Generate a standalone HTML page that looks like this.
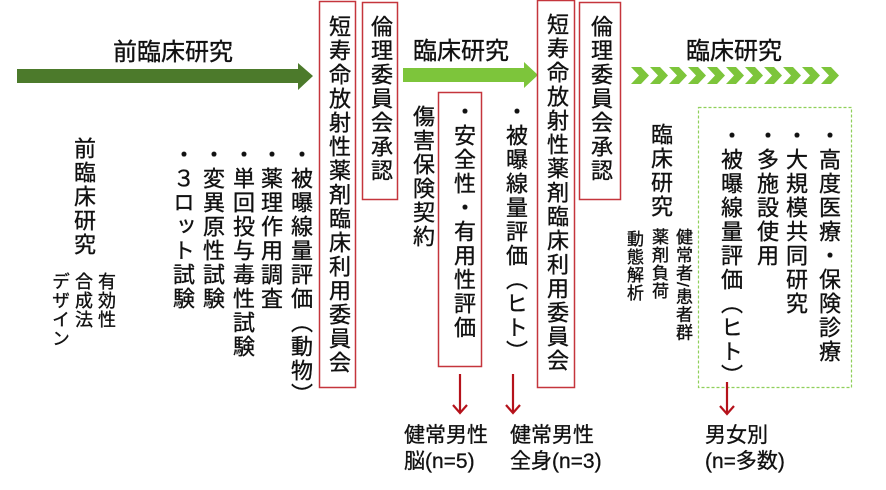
<!DOCTYPE html>
<html><head><meta charset="utf-8"><style>
body{margin:0;background:#fff;width:886px;height:490px;overflow:hidden;position:relative;font-family:"Liberation Sans","Noto Sans CJK JP",sans-serif;color:#111}
.v{position:absolute;writing-mode:vertical-rl;line-height:1;white-space:nowrap;-webkit-text-stroke:0.35px #111}
.b{font-size:22px;width:22px;letter-spacing:2px}
.s{font-size:17px;width:17px;letter-spacing:1px}
.h{position:absolute;font-size:22px;line-height:1;white-space:nowrap;-webkit-text-stroke:0.35px #111}
.t{position:absolute;font-size:21px;line-height:26px;white-space:nowrap;-webkit-text-stroke:0.3px #111}
</style></head><body>
<svg width="886" height="490" style="position:absolute;left:0;top:0">
<polygon points="17,69 298,69 298,63 313,76 298,90 298,83 17,83" fill="#4c7a2b"/>
<polygon points="403,68 524,68 524,62 538,75 524,88 524,82 403,82" fill="#7dc53b"/>
<g fill="#7dc53b">
<polygon points="631,67 641,67 649,75.5 641,84 631,84 639,75.5"/>
<polygon points="650,67 660,67 668,75.5 660,84 650,84 658,75.5"/>
<polygon points="669,67 679,67 687,75.5 679,84 669,84 677,75.5"/>
<polygon points="688,67 698,67 706,75.5 698,84 688,84 696,75.5"/>
<polygon points="707,67 717,67 725,75.5 717,84 707,84 715,75.5"/>
<polygon points="726,67 736,67 744,75.5 736,84 726,84 734,75.5"/>
<polygon points="745,67 755,67 763,75.5 755,84 745,84 753,75.5"/>
<polygon points="764,67 774,67 782,75.5 774,84 764,84 772,75.5"/>
<polygon points="783,67 793,67 801,75.5 793,84 783,84 791,75.5"/>
<polygon points="802,67 812,67 820,75.5 812,84 802,84 810,75.5"/>
<polygon points="821,67 831,67 839,75.5 831,84 821,84 829,75.5"/>
</g>
<g fill="none" stroke="#c5353c" stroke-width="1.5">
<rect x="319.5" y="1.5" width="36" height="386"/>
<rect x="362.5" y="2.5" width="35" height="197"/>
<rect x="438.5" y="92.5" width="43" height="274"/>
<rect x="537.5" y="0.5" width="37" height="387"/>
<rect x="579.5" y="2.5" width="41" height="197"/>
</g>
<rect x="698.5" y="107.5" width="153" height="280" fill="none" stroke="#8fd05a" stroke-width="1.2" stroke-dasharray="3,2"/>
<g stroke="#b5121b" stroke-width="2.2" fill="none">
<line x1="460" y1="374" x2="460" y2="413"/><polyline points="453,405 460,413 467,405"/>
<line x1="513" y1="374" x2="513" y2="413"/><polyline points="506,405 513,413 520,405"/>
<line x1="727" y1="382" x2="727" y2="414"/><polyline points="720,406 727,414 734,406"/>
</g>
</svg>

<div class="h" style="left:113px;top:41px;font-size:24px">前臨床研究</div>
<div class="h" style="left:413px;top:40px;font-size:24px">臨床研究</div>
<div class="h" style="left:686px;top:40px;font-size:24px">臨床研究</div>

<div class="v b" style="left:72px;top:137px">前臨床研究</div>
<div class="v s" style="left:97px;top:272px;font-size:18px;width:18px">有効性</div>
<div class="v s" style="left:74px;top:272px;font-size:18px;width:18px">合成法</div>
<div class="v s" style="left:51px;top:272px;font-size:18px;width:18px">デザイン</div>

<div class="v b" style="left:171px;top:143px">・３ロット試験</div>
<div class="v b" style="left:201px;top:143px">・変異原性試験</div>
<div class="v b" style="left:231px;top:143px">・単回投与毒性試験</div>
<div class="v b" style="left:259px;top:143px">・薬理作用調査</div>
<div class="v b" style="left:289px;top:143px">・被曝線量評価（動物）</div>

<div class="v b" style="left:327px;top:15px">短寿命放射性薬剤臨床利用委員会</div>
<div class="v b" style="left:369px;top:15px">倫理委員会承認</div>
<div class="v b" style="left:411px;top:105px">傷害保険契約</div>
<div class="v b" style="left:452px;top:100px">・安全性・有用性評価</div>
<div class="v b" style="left:504px;top:100px">・被曝線量評価（ヒト）</div>
<div class="v b" style="left:545px;top:13px">短寿命放射性薬剤臨床利用委員会</div>
<div class="v b" style="left:589px;top:15px">倫理委員会承認</div>

<div class="v b" style="left:649px;top:123px">臨床研究</div>
<div class="v s" style="left:674px;top:228px">健常者/患者群</div>
<div class="v s" style="left:650px;top:228px">薬剤負荷</div>
<div class="v s" style="left:625px;top:230px">動態解析</div>

<div class="v b" style="left:719px;top:124px">・被曝線量評価（ヒト）</div>
<div class="v b" style="left:755px;top:124px">・多施設使用</div>
<div class="v b" style="left:784px;top:124px">・大規模共同研究</div>
<div class="v b" style="left:817px;top:124px">・高度医療・保険診療</div>

<div class="t" style="left:404px;top:423px">健常男性<br>脳(n=5)</div>
<div class="t" style="left:510px;top:423px">健常男性<br>全身(n=3)</div>
<div class="t" style="left:705px;top:423px">男女別<br>(n=多数)</div>
</body></html>
